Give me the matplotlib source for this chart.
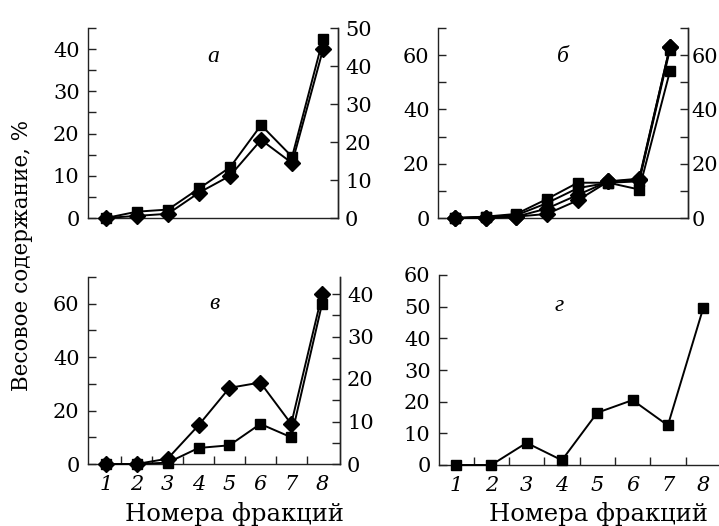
import matplotlib
matplotlib.use("Agg")
import matplotlib.pyplot as plt
from matplotlib.ticker import MultipleLocator, FixedLocator

plt.rcParams['font.family'] = ['DejaVu Serif']

fractions = [1, 2, 3, 4, 5, 6, 7, 8]
frac_labels = ['1', '2', '3', '4', '5', '6', '7', '8']

# panel а
a_sq = [0, 1.5, 2, 7, 12, 22, 14.5, 42.5]
a_di = [0, 0.5, 1, 6, 10, 18.5, 13, 40]
# panel б
b_sq1 = [0, 0.5, 1.5, 7, 13, 13, 10.5, 54]
b_sq2 = [0, 0.5, 1, 5.5, 11, 13, 13.5, 62]
b_di1 = [0, 0, 0.5, 3.5, 8.5, 13.5, 14, 63]
b_di2 = [0, 0, 0.5, 1.5, 6.5, 13.5, 14.5, 63]
# panel в
v_di = [0, 0, 2, 14.5, 28.5, 30.5, 15, 63.5]
v_sq = [0, 0, 0.5, 6, 7, 15, 10, 60]
# panel г
g_sq = [0, 0, 7, 1.5, 16.5, 20.5, 12.5, 49.5]

W, H = 719, 526
fig = plt.figure(figsize=(W / 100, H / 100), dpi=100)

def rect(l, r, t, b):
    return [l / W, 1 - b / H, (r - l) / W, (b - t) / H]

FS = 15
LW = 1.4
MS_SQ = 7
MS_DI = 8
SPC = '#222222'

def style(ax, right=True):
    ax.spines['top'].set_visible(False)
    ax.spines['right'].set_visible(right)
    for s in ax.spines.values():
        s.set_linewidth(1.0)
        s.set_color(SPC)
    ax.tick_params(axis='y', which='both', direction='in', length=6, width=1,
                   labelsize=FS, pad=6, color=SPC)
    ax.tick_params(axis='x', which='both', direction='in', length=6, width=1,
                   labelsize=FS, color=SPC)

def plot_series(ax, y, marker):
    ms = MS_SQ if marker == 's' else MS_DI
    ax.plot(fractions, y, color='black', lw=LW, marker=marker, ms=ms,
            mfc='black', mec='black', zorder=3, clip_on=False)

def add_right(ax, ylim, major, minor=None, pad=5):
    r = ax.twinx()
    r.set_ylim(*ylim)
    r.yaxis.set_major_locator(MultipleLocator(major))
    if minor:
        r.yaxis.set_minor_locator(MultipleLocator(minor))
    r.spines['top'].set_visible(False)
    r.spines['left'].set_visible(False)
    r.spines['bottom'].set_visible(False)
    r.spines['right'].set_linewidth(1.0)
    r.spines['right'].set_color(SPC)
    r.tick_params(axis='y', which='both', direction='in', length=6, width=1,
                  labelsize=FS, pad=pad, color=SPC)
    return r

def x_setup(ax, xlim, labels, xlabel_x=None):
    ax.set_xlim(*xlim)
    if labels:
        ax.set_xticks(fractions)
        ax.set_xticklabels(frac_labels, fontstyle='italic')
        ax.tick_params(axis='x', which='major', length=0, pad=8)
        ax.xaxis.set_minor_locator(FixedLocator([1.5, 2.5, 3.5, 4.5, 5.5, 6.5, 7.5]))
        ax.tick_params(axis='x', which='minor', length=6)
        fig.text(xlabel_x / W, 1 - 521 / H, 'Номера фракций', fontsize=17.5,
                 ha='center', va='baseline')
    else:
        ax.set_xticks([])

def panel_letter(ax, x, y, s):
    ax.text(x, y, s, transform=ax.transAxes, fontsize=17, fontstyle='italic',
            family=['Liberation Serif', 'DejaVu Serif'], ha='center', va='center')

# ---- а ----
ax = fig.add_axes(rect(88, 338, 28, 218))
style(ax)
ax.set_ylim(0, 45)
ax.yaxis.set_major_locator(MultipleLocator(10))
ax.yaxis.set_minor_locator(MultipleLocator(5))
x_setup(ax, (0.42, 8.48), False)
add_right(ax, (0, 50), 10)
plot_series(ax, a_di, 'D')
plot_series(ax, a_sq, 's')
panel_letter(ax, 0.5, 0.85, 'а')

# ---- б ----
ax = fig.add_axes(rect(438, 688, 28, 218))
style(ax)
ax.set_ylim(0, 70)
ax.yaxis.set_major_locator(MultipleLocator(20))
ax.yaxis.set_minor_locator(MultipleLocator(10))
x_setup(ax, (0.45, 8.59), False)
add_right(ax, (0, 70), 20, 10, pad=2.5)
plot_series(ax, b_di2, 'D')
plot_series(ax, b_di1, 'D')
plot_series(ax, b_sq2, 's')
plot_series(ax, b_sq1, 's')
panel_letter(ax, 0.5, 0.85, 'б')

# ---- в ----
ax = fig.add_axes(rect(88, 340, 277, 464))
style(ax)
ax.set_ylim(0, 70)
ax.yaxis.set_major_locator(MultipleLocator(20))
ax.yaxis.set_minor_locator(MultipleLocator(10))
x_setup(ax, (0.42, 8.58), True, 234)
add_right(ax, (0, 44), 10, 5)
plot_series(ax, v_sq, 's')
plot_series(ax, v_di, 'D')
panel_letter(ax, 0.5, 0.86, 'в')

# ---- г ----
ax = fig.add_axes(rect(439, 718, 275, 465))
style(ax, right=False)
ax.set_ylim(0, 60)
ax.yaxis.set_major_locator(MultipleLocator(10))
x_setup(ax, (0.52, 8.42), True, 598)
plot_series(ax, g_sq, 's')
panel_letter(ax, 0.43, 0.84, 'г')

fig.text(22 / W, 1 - 255 / H, 'Весовое содержание, %', rotation=90,
         fontsize=15.5, ha='center', va='center')

fig.savefig('out.png', dpi=100)
